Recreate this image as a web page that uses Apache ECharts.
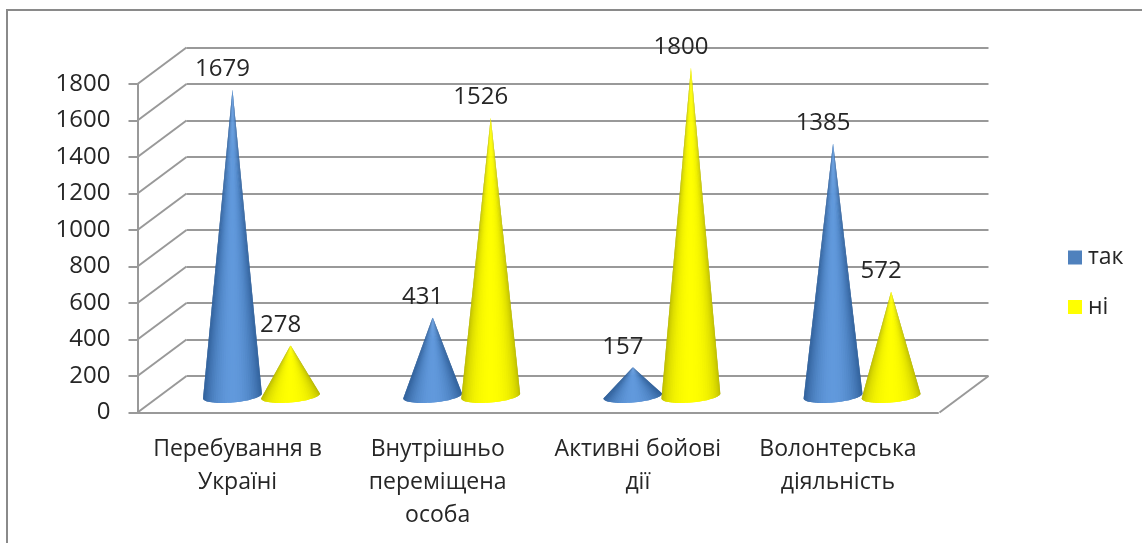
<!DOCTYPE html>
<html>
<head>
<meta charset="utf-8">
<style>
html, body { margin: 0; padding: 0; background: #fff; }
#main { width: 1142px; height: 543px; }
</style>
<script src="https://cdn.jsdelivr.net/npm/echarts@6/dist/echarts.min.js"></script>
</head>
<body>
<div id="main"></div>
<script>
var categories = ['Перебування в\nУкраїні', 'Внутрішньо\nпереміщена\nособа', 'Активні бойові\nдії', 'Волонтерська\nдіяльність'];
var yesValues = [1679, 431, 157, 1385];
var noValues = [278, 1526, 1800, 572];
var yTicks = [0, 200, 400, 600, 800, 1000, 1200, 1400, 1600, 1800];

var fontName = '"Open Sans", "Noto Sans", sans-serif';
var textColor = '#262626';
var gridColor = '#999999';

var frontGrid = { left: 137.5, top: 84, width: 800.5, height: 328.5 };
var backGrid = { left: 186.5, top: 47.5, width: 802, height: 328.5 };
var coneGrid = { left: 161.4, top: 67.5, width: 800.8, height: 328.5 };

// конус: смужки від вершини до еліпса основи, колір залежить від кута
function coneItem(side, edgeColor, midColor, shadePower) {
    return function(params, api) {
        var cat = api.value(0);
        var val = api.value(1);
        var band = api.size([1, 0])[0];
        var base = api.coord([cat, 0]);
        var top = api.coord([cat, val]);
        var cx = base[0] + side * band * 0.145;
        var halfW = band * 0.147;
        var apex = [cx, top[1]];
        var children = [];
        var steps = 36;
        function basePoint(a) {
            return [cx + halfW * Math.cos(a), base[1] + 6.5 * Math.sin(a) - 2.5 * Math.cos(a)];
        }
        for (var i = 0; i < steps; i++) {
            var a0 = Math.PI * i / steps;
            var a1 = Math.PI * Math.min(i + 2, steps) / steps;
            var shade = Math.pow(Math.sin(Math.PI * (i + 0.5) / steps), shadePower);
            var points = [apex, basePoint(a0), basePoint((a0 + a1) / 2), basePoint(a1)];
            // кожна смужка заходить під наступну, щоб не було швів
            children.push({
                type: 'polygon',
                shape: { points: points },
                style: { fill: echarts.color.lerp(shade, [edgeColor, midColor]) }
            });
        }
        children.push({
            type: 'text',
            style: {
                text: String(val),
                x: cx - 10,
                y: top[1] - 20,
                align: 'center',
                verticalAlign: 'middle',
                fill: textColor,
                font: '24px ' + fontName
            }
        });
        return { type: 'group', children: children };
    };
}

// діагоналі бічної стінки та підлоги
function renderDepthLines(params, api) {
    var sys = params.coordSys;
    var dx = backGrid.left - frontGrid.left;
    var y = api.coord([0, api.value(0)])[1];
    var lineStyle = { stroke: gridColor, lineWidth: 2 };
    var children = [{
        type: 'line',
        shape: { x1: sys.x, y1: y, x2: sys.x - dx, y2: y + (frontGrid.top - backGrid.top) },
        style: lineStyle
    }];
    if (api.value(0) === 0) {
        children.push({
            type: 'line',
            shape: { x1: sys.x + sys.width, y1: y, x2: sys.x + sys.width - dx, y2: y + (frontGrid.top - backGrid.top) },
            style: lineStyle
        });
    }
    return { type: 'group', children: children };
}

function pairs(values) {
    return values.map(function(v, i) { return [i, v]; });
}

var option = {
    animation: false,
    backgroundColor: '#fff',
    textStyle: { fontFamily: fontName },
    graphic: [{
        type: 'rect',
        shape: { x: 7, y: 10, width: 1300, height: 700 },
        style: { fill: 'none', stroke: '#8a8a8a', lineWidth: 2 },
        silent: true
    }],
    legend: {
        data: ['так', 'ні'],
        orient: 'vertical',
        left: 1068,
        top: 246,
        padding: 0,
        icon: 'rect',
        itemWidth: 14,
        itemHeight: 14,
        itemGap: 26.5,
        textStyle: { fontSize: 23, color: textColor, fontFamily: fontName, padding: [0, 0, 0, 1] }
    },
    grid: [frontGrid, backGrid, coneGrid],
    xAxis: [{
        gridIndex: 0,
        type: 'category',
        data: categories,
        axisLine: { lineStyle: { color: gridColor, width: 2 } },
        axisTick: { length: 9, lineStyle: { color: gridColor, width: 2 } },
        axisLabel: { interval: 0, color: textColor, fontSize: 23, lineHeight: 33, margin: 20, fontFamily: fontName }
    }, {
        gridIndex: 1,
        type: 'category',
        data: categories,
        show: false
    }, {
        gridIndex: 2,
        type: 'category',
        data: categories,
        show: false
    }],
    yAxis: [{
        gridIndex: 0,
        type: 'value',
        min: 0,
        max: 1800,
        interval: 200,
        axisLine: { show: true, lineStyle: { color: gridColor, width: 2 } },
        axisTick: { show: true, length: 9, lineStyle: { color: gridColor, width: 2 } },
        axisLabel: {
            color: textColor,
            fontSize: 24,
            margin: 27,
            fontFamily: fontName,
            formatter: function(v) { return String(v); }
        },
        splitLine: { show: false }
    }, {
        gridIndex: 1,
        type: 'value',
        min: 0,
        max: 1800,
        interval: 200,
        axisLine: { show: false },
        axisTick: { show: false },
        axisLabel: { show: false },
        splitLine: { show: true, lineStyle: { color: gridColor, width: 2 } }
    }, {
        gridIndex: 2,
        type: 'value',
        min: 0,
        max: 1800,
        interval: 200,
        show: false,
        splitLine: { show: false }
    }],
    series: [{
        type: 'custom',
        name: 'стінка',
        xAxisIndex: 1,
        yAxisIndex: 1,
        silent: true,
        encode: { y: 0 },
        data: yTicks.map(function(v) { return [v]; }),
        renderItem: renderDepthLines,
        z: 1
    }, {
        type: 'custom',
        name: 'так',
        xAxisIndex: 2,
        yAxisIndex: 2,
        itemStyle: { color: '#4f81bd' },
        encode: { x: 0, y: 1 },
        data: pairs(yesValues),
        renderItem: coneItem(-1, '#30609a', '#6199dc', 1.8),
        z: 3
    }, {
        type: 'custom',
        name: 'ні',
        xAxisIndex: 2,
        yAxisIndex: 2,
        itemStyle: { color: '#ffff00' },
        encode: { x: 0, y: 1 },
        data: pairs(noValues),
        renderItem: coneItem(1, '#b0b000', '#ffff00', 1),
        z: 4
    }]
};

var myChart = echarts.init(document.getElementById('main'));
myChart.setOption(option);
</script>
</body>
</html>
